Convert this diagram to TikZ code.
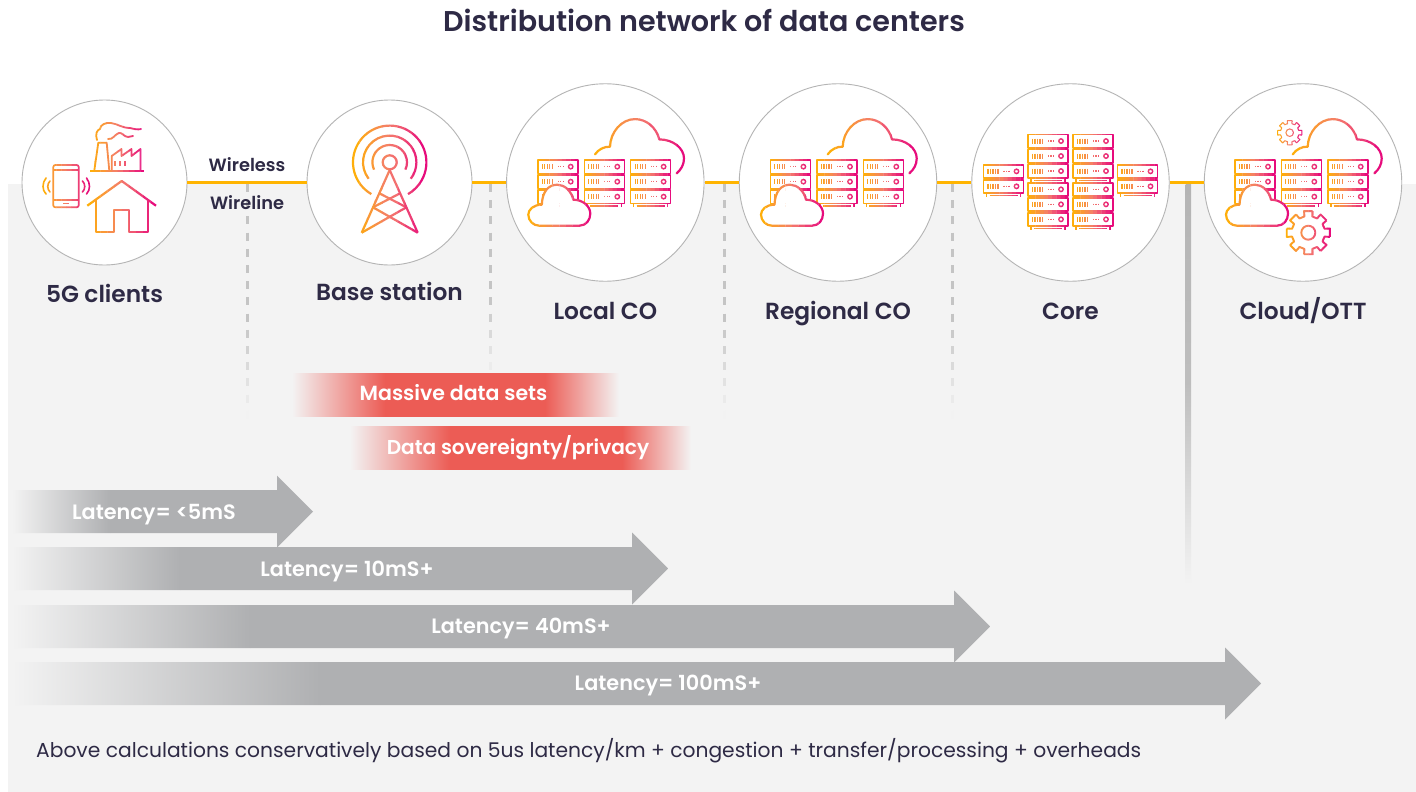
\documentclass[tikz,border=0pt]{standalone}
\usepackage{fontspec}
\setmainfont{Poppins}[BoldFont={Poppins SemiBold}]
\usetikzlibrary{calc}
\definecolor{bgc}{HTML}{F3F3F3}
\definecolor{ink}{HTML}{2E2A45}
\definecolor{gS}{HTML}{FFB400}
\definecolor{gM}{HTML}{F47C6C}
\definecolor{gE}{HTML}{E6007E}
\definecolor{latc}{HTML}{AFB0B2}
\definecolor{redc}{HTML}{EC5C55}
\definecolor{ringc}{HTML}{B4B4B4}
\definecolor{dashc}{HTML}{C4C4C4}
\colorlet{gc}{gS}
\tikzset{
  ring/.style={circle,draw=ringc,fill=white,line width=0.9pt,inner sep=0pt},
  wire/.style={draw=gS,line width=2.8pt},
  ic/.style={draw=gc,line width=1.6pt,line join=round},
  icb/.style={draw=gc,line width=2.2pt,line join=round},
  icc/.style={draw=gc,line width=2.2pt,line join=round,line cap=round},
  tick/.style={draw=gc,line width=1.1pt},
  head/.style={anchor=base,text=ink,font=\bfseries\fontsize{23.3}{28}\selectfont,inner sep=0pt},
  small/.style={anchor=base,text=ink,font=\bfseries\fontsize{17.8}{21}\selectfont,inner sep=0pt},
  bartext/.style={anchor=base,text=white,font=\bfseries\fontsize{20.5}{24}\selectfont,inner sep=0pt},
}
\def\gN{10}
% x0,x1,ybottom,ytop,code : stroke colour runs across x
\newcommand{\gradgrp}[5]{%
  \pgfmathsetmacro{\gw}{(#2-(#1))/\gN}%
  \foreach \gi in {1,...,\gN}{%
    \pgfmathsetmacro{\gxa}{#1+(\gi-1)*\gw}%
    \pgfmathsetmacro{\gxb}{#1+\gi*\gw+0.25}%
    \pgfmathsetmacro{\gt}{(\gi-0.5)/\gN}%
    \pgfmathsetmacro{\gpa}{min(100,200*\gt)}%
    \pgfmathsetmacro{\gpb}{max(0,200*\gt-100)}%
    \colorlet{gtmp}{gM!\gpa!gS}%
    \colorlet{gc}{gE!\gpb!gtmp}%
    \begin{scope}\clip (\gxa,#3) rectangle (\gxb,#4);#5\end{scope}%
  }%
}
\newcommand{\rackbody}[3]{%
  \foreach \k in {1,...,#3}{%
    \pgfmathsetmacro{\yy}{#2-(\k-1)*15}%
    \begin{scope}[shift={(#1,\yy)}]
      \draw[ic] (0,0) rectangle (40,-13.3);
      \foreach \u in {4.5,7,9.5,12,14.5}{\draw[tick] (\u,-4.2)--(\u,-9.1);}
      \foreach \u in {20.5,23,25.5}{\draw[tick] (\u,-5.9)--(\u,-7.4);}
      \draw[tick,line width=1.4pt] (33,-6.65) circle (2.2);
    \end{scope}
  }%
  \pgfmathsetmacro{\yb}{#2-(#3-1)*15-13.3}%
  \begin{scope}[shift={(#1,\yb)}]
    \draw[ic] (3,0)--(3,-4) (37,0)--(37,-4);
    \draw[tick,line width=1.2pt] (6,-2.7)--(34,-2.7);
  \end{scope}%
}
\newcommand{\rack}[3]{%
  \pgfmathsetmacro{\ra}{#2+2}\pgfmathsetmacro{\rb}{#2-15*#3-6}%
  \gradgrp{#1-1}{#1+41}{\rb}{\ra}{\rackbody{#1}{#2}{#3}}%
}
\newcommand{\smallcloud}{%
  \begin{scope}[shift={(-77,-43.3)}]
  \gradgrp{-2}{64}{-2}{43}{%
    \draw[icb,fill=white] (11,0) -- (51,0) .. controls (58,0) and (62,6) .. (62,12)
      .. controls (62,20) and (54,26) .. (45,26)
      .. controls (43,35) and (36,41) .. (29,41)
      .. controls (20,41) and (14,34) .. (13.5,21)
      .. controls (5,21) and (0,16) .. (0,11)
      .. controls (0,5) and (5,0) .. (11,0) -- cycle;}
  \end{scope}%
}
\newcommand{\bigcloud}{%
  \gradgrp{-12}{81}{5}{66}{%
    \draw[icc] (-10.3,28) .. controls (-7,33) and (-1,36) .. (4.7,35.7)
      .. controls (5,50) and (16,63.3) .. (29.7,63.3)
      .. controls (41,63.3) and (51,55) .. (54,43)
      .. controls (68,43) and (78.7,34) .. (78.7,24)
      .. controls (78.7,18) and (76,13) .. (71.3,9);}%
}
\newcommand{\threeracks}{%
  \rack{-67.6}{22.4}{3}\rack{-21}{22.4}{3}\rack{25.3}{22.4}{3}%
}
\newcommand{\gearbody}[3]{%
  \draw[ic,line width=#3] \foreach \a in {0,45,...,315}{
    (\a-11:#1) -- (\a+11:#1) -- (\a+22.5-9:#1*0.76) -- (\a+22.5+9:#1*0.76) -- (\a+45-11:#1)};
  \draw[ic,line width=#3] (0,0) circle (#2);%
}
% x0,xfade,xhead,xtip,ytop,ybot
\newcommand{\latarrow}[6]{%
  \pgfmathsetmacro{\hy}{(#5+#6)/2}%
  \begin{scope}
    \clip (#1,#5) -- (#3,#5) -- (#3,#5+14.5) -- (#4,\hy) -- (#3,#6-14.5) -- (#3,#6) -- (#1,#6) -- cycle;
    \shade[left color=bgc,right color=latc] (#1,#5+2) rectangle (#2,#6-2);
    \fill[latc] (#2-0.5,#5+20) rectangle (#4+1,#6-20);
  \end{scope}%
}
% x0,xa,xb,x1,ytop,ybot
\newcommand{\redbar}[6]{%
  \begin{scope}
    \clip (#1,#5) rectangle (#4,#6);
    \shade[left color=bgc,right color=redc] (#1,#5+2) rectangle (#2,#6-2);
    \fill[redc] (#2-0.5,#5+2) rectangle (#3+0.5,#6-2);
    \shade[left color=redc,right color=bgc] (#3,#5+2) rectangle (#4,#6-2);
  \end{scope}%
}
\begin{document}
\begin{tikzpicture}[x=1pt,y=1pt]
\useasboundingbox (0,0) rectangle (1416,-792);
\fill[white] (0,0) rectangle (1416,-792);
\fill[bgc] (8,-184) rectangle (1416,-792);

% rings
\node[ring,minimum size=165pt] (c1) at (104.5,-182.5) {};
\node[ring,minimum size=165pt] (c2) at (389.5,-182.5) {};
\node[ring,minimum size=197.5pt] (c3) at (605.3,-182.5) {};
\node[ring,minimum size=197.5pt] (c4) at (838,-182.5) {};
\node[ring,minimum size=197.5pt] (c5) at (1070.5,-182.5) {};
\node[ring,minimum size=197.5pt] (c6) at (1303,-182.5) {};
\draw[wire] (c1)--(c2);
\draw[wire] (c2)--(c3);
\draw[wire] (c3)--(c4);
\draw[wire] (c4)--(c5);
\draw[wire] (c5)--(c6);

% dashed dividers (fading downwards)
\foreach \dx/\de in {247/412,490/374,724/412,952/412}{
  \foreach \dy in {184,200.2,...,420}{
    \pgfmathtruncatemacro{\ok}{\dy<\de ? 1 : 0}
    \ifnum\ok=1
      \pgfmathsetmacro{\op}{min(100,max(0,(\de-\dy)/(\de-184)*240))}
      \draw[draw=dashc!\op!bgc,line width=3pt] (\dx,-\dy)--(\dx,-\dy-8);
    \fi
  }
}
% solid divider
\shade[top color=ringc,bottom color=bgc,middle color=ringc!85!bgc] (1185.5,-184) rectangle (1191,-584);

% icons: 5G clients
\gradgrp{41}{92}{-210}{-163}{%
  \draw[ic,rounded corners=2pt,line width=1.7pt] (53.3,-165) rectangle (78.7,-207.3);
  \draw[tick] (53.3,-170)--(78.7,-170) (53.3,-200)--(78.7,-200);
  \draw[tick,line width=1.3pt] (63,-203.6)--(69,-203.6);
  \draw[icc,line width=1.6pt] (46,-178) .. controls (42,-183) and (42,-190) .. (46,-194);
  \draw[icc,line width=1.6pt] (50,-181) .. controls (47,-184) and (47,-189) .. (50,-192);
  \draw[icc,line width=1.6pt] (86.5,-178) .. controls (90.5,-183) and (90.5,-190) .. (86.5,-194);
  \draw[icc,line width=1.6pt] (82.5,-181) .. controls (85.5,-184) and (85.5,-189) .. (82.5,-192);
}
\gradgrp{89}{146}{-172.5}{-120}{%
  \draw[ic,line width=1.8pt] (90,-170.7)--(144,-170.7);
  \draw[ic,line width=1.8pt] (94.3,-170.7)--(98.3,-142.7)--(106.7,-142.7)--(109.3,-170.7);
  \draw[ic,line width=1.8pt] (111.7,-170.7)--(111.7,-156)--(121.5,-149)--(121.5,-156)--(131.5,-149)--(131.5,-156)--(140.5,-149)--(140.5,-170.7);
  \foreach \u in {115,120,125}{\draw[tick,line width=1.4pt] (\u,-161)--(\u,-166);}
  \draw[icc,line width=1.8pt] (97,-140) .. controls (95,-134) and (97,-130) .. (100,-129)
    .. controls (100,-125) and (106,-122) .. (111,-123) .. controls (118,-124) and (122,-128) .. (130,-128) .. controls (134,-129) and (138,-130) .. (141,-129);
  \draw[icc,line width=1.8pt] (108,-139) .. controls (113,-140) and (115,-134) .. (119,-133)
    .. controls (122,-132) and (124,-137) .. (128,-137) -- (133,-136);
}
\gradgrp{86}{157.5}{-233.5}{-179}{%
  \draw[icb] (87.3,-205.7)--(121.7,-181)--(156,-205.7);
  \draw[icb] (95.7,-199)--(95.7,-231.7)--(114,-231.7)--(114,-210)--(129.3,-210)--(129.3,-231.7)--(147.7,-231.7)--(147.7,-199);
}
% icons: tower
\begin{scope}[shift={(389.7,-162.3)}]
\gradgrp{-38}{38}{-72}{38}{%
  \draw[icb] (0,0) circle (7);
  \draw[icb] (240:36.7) arc (240:-60:36.7);
  \draw[icb] (218:26.7) arc (218:-38:26.7);
  \draw[icb] (205:17.3) arc (205:-25:17.3);
  \draw[icb] (0,-7.7)--(-28,-70.4);
  \draw[icb] (0,-7.7)--(28,-70.4);
  \draw[icb] (-10.4,-31)--(16.7,-45);
  \draw[icb] (10.4,-31)--(-16.7,-45);
  \draw[icb] (-16.7,-45)--(28,-70.4);
  \draw[icb] (16.7,-45)--(-28,-70.4);
}
\end{scope}
% icons: Local CO
\begin{scope}[shift={(605.3,-182.4)}]
\bigcloud\threeracks\smallcloud
\end{scope}
% icons: Regional CO
\begin{scope}[shift={(838,-182.4)}]
\bigcloud\threeracks\smallcloud
\end{scope}
% icons: Core
\begin{scope}[shift={(1070.5,-182.4)}]
\rack{-87}{17.7}{2}\rack{47}{17.7}{2}
\rack{-42.5}{48}{3}\rack{2.5}{48}{3}
\rack{-42.5}{-0.3}{3}\rack{2.5}{-0.3}{3}
\end{scope}
% icons: Cloud/OTT
\begin{scope}[shift={(1303,-182.4)}]
\bigcloud
\begin{scope}[shift={(-13.3,49.7)}]
\gradgrp{-13.5}{13.5}{-13.5}{13.5}{\gearbody{12.3}{3.8}{1pt}}
\end{scope}
\rack{-68}{22.4}{3}\rack{-21.7}{22.4}{3}\rack{24.7}{22.4}{3}
\smallcloud
\begin{scope}[shift={(5.3,-50.3)}]
\gradgrp{-24}{24}{-24}{24}{\gearbody{22}{7}{1.9pt}}
\end{scope}
\end{scope}

% labels
\node[anchor=base,font=\bfseries\fontsize{28.6}{32}\selectfont,text=ink,inner sep=0pt] (title) at (704,-32) {Distribution network of data centers};
\node[small] (wl) at (247,-171) {Wireless};
\node[small] (wn) at (247,-209) {Wireline};
\node[head] (l1) at (104.5,-302.5) {5G clients};
\node[head] (l2) at (389.5,-300.5) {Base station};
\node[head] (l3) at (605.3,-319.5) {Local CO};
\node[head] (l4) at (838,-319.5) {Regional CO};
\node[head] (l5) at (1070.5,-319.5) {Core};
\node[head] (l6) at (1303,-319.5) {Cloud/OTT};

% red bars
\redbar{292}{385}{545}{619}{-373}{-416}
\redbar{350}{450}{622}{691}{-426}{-469}
\node[bartext] (m1) at (453.5,-400) {Massive data sets};
\node[bartext,font=\bfseries\fontsize{20.1}{24}\selectfont] (m2) at (518,-454) {Data sovereignty/privacy};

% latency arrows
\latarrow{12}{110}{277}{313}{-490}{-533}
\latarrow{12}{180}{632}{668}{-547}{-590}
\latarrow{12}{250}{954}{990}{-605}{-648}
\latarrow{12}{320}{1225}{1261}{-662}{-705}
\node[bartext,font=\bfseries\fontsize{20.8}{24}\selectfont] (a1) at (154,-519) {Latency= <5mS};
\node[bartext,font=\bfseries\fontsize{20.8}{24}\selectfont] (a2) at (347,-576) {Latency= 10mS+};
\node[bartext,font=\bfseries\fontsize{20.8}{24}\selectfont] (a3) at (521,-633) {Latency= 40mS+};
\node[bartext,font=\bfseries\fontsize{20.8}{24}\selectfont] (a4) at (668,-690) {Latency= 100mS+};
\node[anchor=base west,text=ink,inner sep=0pt,font=\fontsize{20.25}{24}\selectfont] (foot) at (36,-757) {Above calculations conservatively based on 5us latency/km + congestion + transfer/processing + overheads};
\end{tikzpicture}
\end{document}
